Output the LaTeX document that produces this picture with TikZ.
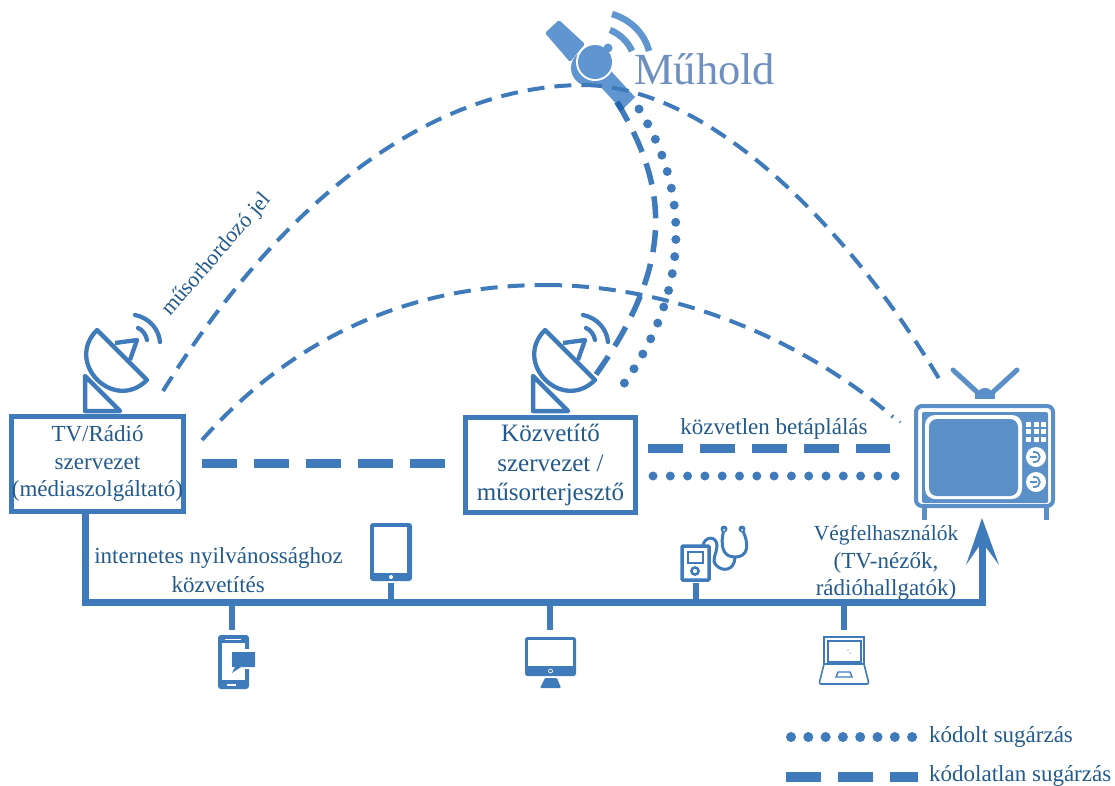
\documentclass[tikz,border=0pt]{standalone}
\usepackage{fontspec}
\setmainfont{Liberation Serif}
\definecolor{mainb}{HTML}{3F7BBB}
\definecolor{softb}{HTML}{6096CF}
\definecolor{midb}{HTML}{5A8FC8}
\definecolor{darkb}{HTML}{1F66B0}
\definecolor{txt}{HTML}{235A8C}
\definecolor{sat}{HTML}{6E8FBF}
\tikzset{
  lab/.style={text=txt,font=\fontsize{23}{27.8}\selectfont,align=center,inner sep=0pt},
  org/.style={draw=mainb,line width=5pt,fill=white,minimum width=170pt,minimum height=95pt,inner sep=0pt,outer sep=0pt,text=txt,font=\fontsize{23}{27.5}\selectfont,align=center},
  bus/.style={draw=mainb,line width=7pt},
  stub/.style={draw=mainb,line width=6.5pt},
  thindash/.style={draw=mainb,line width=4pt,dash pattern=on 17pt off 10pt},
  thickdash/.style={draw=mainb,line width=9pt,dash pattern=on 35pt off 17pt},
  dotline/.style={draw=mainb,line width=9pt,line cap=round,dash pattern=on 0pt off 17.3pt},
  dishline/.style={draw=mainb,line width=4.3pt,line join=round},
  pics/dish/.style={code={
    \draw[dishline] (97,330) .. controls (64,363) and (114,413) .. (147,380) -- cycle;
    \draw[dishline] (115,343) -- (137,340) -- (130,360);
    \draw[dishline,line width=4.5pt] (85,376) -- (85,411) -- (120,411) -- cycle;
    \draw[dishline,line cap=round] (138,328) .. controls (143,330) and (146,335) .. (147,340);
    \draw[dishline,line cap=round] (135,315) .. controls (150,318) and (159,330) .. (160,342);
  }}
}
\begin{document}
\begin{tikzpicture}[x=1pt,y=-1pt]
\useasboundingbox (0,0) rectangle (1115,785);
% anchors for the curves
\coordinate (peak) at (585,85);
\coordinate (tvtop) at (941,382);
\coordinate (tvleft) at (893,417);
\coordinate (orgcurve1) at (163,391);
\coordinate (orgcurve2) at (202,440);
\coordinate (satA) at (617,102);
\coordinate (satB) at (639,109);
\coordinate (dishA) at (592,380);
\coordinate (dishB) at (623,385);
\coordinate (midpk) at (545,285);

% satellite
\fill[softb,rounded corners=1.5pt] (545,33) -- (559,20) -- (585,44) -- (570,62) -- cycle;
\fill[softb] (610,70) -- (635,97) -- (622,110) -- (597,83) -- cycle;
\fill[softb] (589,68) circle (18);
\fill[white] (595,62) circle (19);
\fill[softb] (608,48) circle (4.5);
\fill[softb] (595,62) circle (17);
\draw[softb,line width=6.5pt] (612,14) .. controls (632,20) and (645,35) .. (649,51);
\draw[softb,line width=6.5pt] (610,30) .. controls (620,34) and (628,42) .. (632,51);
\node[text=sat,font=\fontsize{44.5}{44.5}\selectfont,anchor=base west,inner sep=0pt] (muhold) at (634,84) {Műhold};

% organisations
\pic at (0,0) {dish};
\pic at (448,0) {dish};
\node[org] (tv) at (97.5,463.5) {TV/Rádió\\szervezet\\(médiaszolgáltató)};
\node[org,font=\fontsize{25}{29.5}\selectfont] (kozv) at (550.5,465) {Közvetítő\\szervezet /\\műsorterjesztő};

% television
\node[draw=midb,line width=4pt,rounded corners=6pt,minimum width=137pt,minimum height=100pt,fill=white,inner sep=0pt] (set) at (984.5,456) {};
\fill[midb,rounded corners=2pt] (922,412) rectangle (1048,503);
\fill[white,rounded corners=10pt] (925,415) rectangle (1022,499);
\fill[midb,rounded corners=8pt] (929,419) rectangle (1018,496);
\foreach \i in {0,1,2}\foreach \j in {0,1,2}
  \fill[white] ({1026+\i*7.5},{422+\j*7.3}) rectangle ++(5,5);
\foreach \yy in {457,482}{
  \fill[white] (1036,\yy) circle (10);
  \draw[midb,line width=1.8pt] (1030,\yy) -- (1037,\yy) (1033,{\yy-5}) .. controls (1042,{\yy-6}) and (1042,{\yy+6}) .. (1033,{\yy+5});
}
\draw[midb,line width=5pt] (924,508) -- (924,520) (1046,508) -- (1046,520);
\draw[midb,line width=5pt,line cap=round] (953,370) -- (977,392) (1017,370) -- (993,392);
\fill[midb] (975,399) rectangle (995,393);
\fill[midb] (977,394) .. controls (979,386) and (991,386) .. (993,394) -- cycle;

% curves
\draw[thindash] (orgcurve1) .. controls (285,195) and (435,85) .. (peak);
\draw[thindash] (peak) .. controls (720,88) and (860,245) .. (tvtop);
\draw[thindash] (orgcurve2) .. controls (300,330) and (420,285) .. (midpk);
\draw[thindash] (midpk) .. controls (680,285) and (810,345) .. (tvleft);
\draw[mainb,line width=1pt] (899,423) -- (901,421);
\draw[mainb,line width=5.5pt,dash pattern=on 22pt off 12pt] (satA) .. controls (667,185) and (678,262) .. (dishA);
\draw[darkb,line width=5.5pt] (satA) -- (622,110);
\draw[mainb,line width=9pt,line cap=round,dash pattern=on 0pt off 17.2pt] (satB) .. controls (693,195) and (688,295) .. (dishB);

% straight links
\coordinate (l1) at ([xshift=18.5pt]tv.east);
\coordinate (l2) at ([xshift=-20pt]kozv.west |- l1);
\draw[thickdash] (l1) -- (l2);
\coordinate (b1) at (648,448);
\coordinate (b2) at (890,448);
\draw[thickdash] (b1) -- (b2);
\coordinate (c1) at (653,476);
\coordinate (c2) at (897,476);
\draw[dotline] (c1) -- (c2);
\node[lab,anchor=base] (direct) at (774,434) {közvetlen betáplálás};

% bus
\coordinate (busL) at (85,602.5);
\coordinate (busR) at (982,602.5);
\draw[bus] (tv.south -| busL) -- (busL) -- (busR) -- (982,540);
\fill[mainb] (982,518) coordinate (arrowtip) -- (999,565) -- (982,542) -- (966,565) -- cycle;
\draw[stub] (232,603) -- (232,630) (391,603) -- (391,583) (550,603) -- (550,630) (696,603) -- (696,583) (844,603) -- (844,630);
\node[lab,anchor=base east] (inet) at (343,563) {internetes nyilvánossághoz};
\node[lab,anchor=base east] (inet2) at (265,592) {közvetítés};
\node[lab] (users) at (886,563) {{\fontsize{21.5}{27.8}\selectfont Végfelhasználók}\\(TV-nézők,\\rádióhallgatók)};

% phone
\fill[mainb,rounded corners=3pt] (218,635) rectangle (249,689);
\fill[white] (222,643) rectangle (245,680);
\fill[white] (227,684) rectangle (236,686);
\fill[white] (225,639) rectangle (241,640);
\fill[white] (230,649) rectangle (257,669);
\fill[mainb] (232,652) -- (255,652) -- (255,667) -- (241,667) -- (232,673) -- (235,667) -- (232,667) -- cycle;
% tablet
\fill[mainb,rounded corners=3pt] (370,523) rectangle (412,581);
\fill[white] (374,527) rectangle (407,573);
\fill[white] (391,577) circle (2);
% monitor
\fill[mainb,rounded corners=2.5pt] (525,637) rectangle (576,676);
\fill[white] (528,640) rectangle (573,666);
\draw[white,line width=.7pt] (550.5,671) circle (2);
\fill[mainb,rounded corners=1pt] (540,688) -- (561,688) -- (557,678) -- (545,678) -- cycle;
% laptop
\draw[mainb,line width=1.6pt] (824,637) rectangle (864,664);
\draw[mainb,line width=1.4pt] (828,641) rectangle (861,662);
\draw[mainb,line width=1.6pt,rounded corners=2pt] (824,664) -- (819,684) -- (869,684) -- (864,664);
\draw[mainb,line width=1.4pt] (838,672) -- (850,672) -- (852,677) -- (836,677) -- cycle;
\fill[mainb] (848,650) circle (.7) (850,653) circle (.7);
% player + stethoscope
\draw[mainb,line width=3.5pt,rounded corners=1pt] (682,546) rectangle (709,580);
\draw[mainb,line width=2.5pt] (688,552) rectangle (703,563);
\draw[mainb,line width=2.5pt] (695,571) circle (3.6);
\draw[mainb,line width=3pt,line cap=round] (703,546) .. controls (704,536) and (717,535) .. (717,546) .. controls (717,553) and (711,560) .. (716,565) .. controls (722,572) and (734,571) .. (735,558);
\draw[mainb,line width=3pt,line cap=round] (724,529) .. controls (720,545) and (722,557) .. (735,557) .. controls (748,557) and (750,545) .. (742,529);
\fill[mainb] (724,529) circle (3.5) (742,529) circle (3.5);
\fill[white] (724,530) circle (1) (742,530) circle (1);

% legend
\coordinate (k1) at (791,737);
\coordinate (k2) at (914,737);
\draw[dotline,line width=10pt] (k1) -- (k2);
\coordinate (u1) at (786,777);
\coordinate (u2) at (918,777);
\draw[thickdash,line width=9.5pt] (u1) -- (u2);
\node[lab,anchor=base west] (kd) at (929,742) {kódolt sugárzás};
\node[lab,anchor=base west] (ku) at (929,781) {kódolatlan sugárzás};
% rotated label
\node[lab,rotate=49,font=\fontsize{22}{25}\selectfont,anchor=base west] (jel) at (170,317) {műsorhordozó jel};
\end{tikzpicture}
\end{document}
